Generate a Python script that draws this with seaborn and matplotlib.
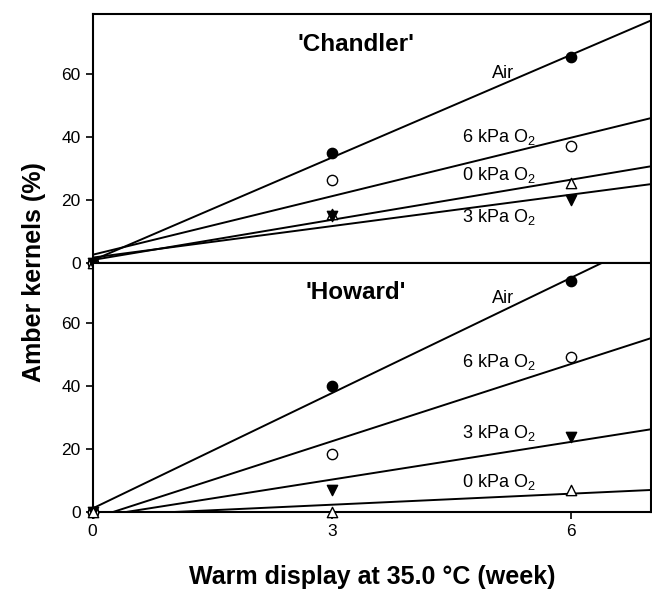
import numpy as np
import pandas as pd
import matplotlib
matplotlib.use("Agg")
import matplotlib.pyplot as plt
import seaborn as sns

# weeks of warm display
weeks = [0, 3, 6]

# 'Chandler' amber kernels (%)
chandler_air = [0, 35.0, 65.3]
chandler_6kpa = [0, 26.3, 37.2]
chandler_0kpa = [0, 15.5, 25.5]
chandler_3kpa = [0, 15.0, 20.0]

# 'Howard' amber kernels (%)
howard_air = [0, 40.0, 73.1]
howard_6kpa = [0, 18.3, 49.0]
howard_3kpa = [0, 7.0, 23.9]
howard_0kpa = [0, 0.0, 7.0]

treatments = ["Air", "6 kPa O$_2$", "0 kPa O$_2$", "3 kPa O$_2$"]

# (label x, label y) per treatment, per cultivar
chandler_labels = {"Air": (5.15, 60.3), "6 kPa O$_2$": (5.1, 40.0),
                   "0 kPa O$_2$": (5.1, 28.0), "3 kPa O$_2$": (5.1, 14.7)}
howard_labels = {"Air": (5.15, 67.6), "6 kPa O$_2$": (5.1, 47.7),
                 "3 kPa O$_2$": (5.1, 25.2), "0 kPa O$_2$": (5.1, 9.6)}

markers = {"Air": ("o", "black"), "6 kPa O$_2$": ("o", "white"),
           "0 kPa O$_2$": ("^", "white"), "3 kPa O$_2$": ("v", "black")}

sns.set_style("ticks")
plt.rcParams["font.family"] = ["Liberation Sans", "DejaVu Sans"]
plt.rcParams["mathtext.fontset"] = "custom"
plt.rcParams["mathtext.rm"] = "Liberation Sans"
plt.rcParams["mathtext.it"] = "Liberation Sans:italic"
plt.rcParams["mathtext.bf"] = "Liberation Sans:bold"
plt.rcParams["text.color"] = "black"
plt.rcParams["xtick.color"] = "black"
plt.rcParams["ytick.color"] = "black"
plt.rcParams["xtick.labelcolor"] = "black"
plt.rcParams["ytick.labelcolor"] = "black"


def draw_panel(ax, series, labels, title):
    ax.set_xlim(0, 7)
    ax.set_ylim(0, 79)
    for name, vals in series.items():
        df = pd.DataFrame({"week": weeks, "amber": vals})
        m, fc = markers[name]
        sns.regplot(x="week", y="amber", data=df, ax=ax, ci=None, truncate=False,
                    color="black", marker=m,
                    scatter_kws={"s": 55, "facecolors": fc, "edgecolors": "black",
                                 "linewidths": 1.0, "alpha": 1, "clip_on": False,
                                 "zorder": 3},
                    line_kws={"linewidth": 1.4})
        lx, ly = labels[name]
        ax.text(lx, ly, name, ha="center", va="center", fontsize=13)
    ax.text(3.3, 69.5, title, ha="center", va="center", fontsize=17.5, fontweight="bold")
    ax.set_yticks([0, 20, 40, 60])
    ax.set_xlabel("")
    ax.set_ylabel("")
    ax.tick_params(labelsize=12.5, direction="out", length=5, width=1.2)
    for s in ax.spines.values():
        s.set_linewidth(1.5)
        s.set_color("black")


fig = plt.figure(figsize=(6.52, 5.92), dpi=100)
ax1 = fig.add_axes([0.142, 0.556, 0.856, 0.42])
ax2 = fig.add_axes([0.142, 0.135, 0.856, 0.421])

draw_panel(ax1, {"Air": chandler_air, "6 kPa O$_2$": chandler_6kpa,
                 "0 kPa O$_2$": chandler_0kpa, "3 kPa O$_2$": chandler_3kpa},
           chandler_labels, "'Chandler'")
draw_panel(ax2, {"Air": howard_air, "6 kPa O$_2$": howard_6kpa,
                 "3 kPa O$_2$": howard_3kpa, "0 kPa O$_2$": howard_0kpa},
           howard_labels, "'Howard'")

ax1.set_xticks([])
ax2.set_xticks([0, 3, 6])

fig.text(0.052, 0.54, "Amber kernels (%)", rotation=90, ha="center", va="center",
         fontsize=18, fontweight="bold")
fig.text(0.571, 0.025, "Warm display at 35.0 °C (week)", ha="center", va="center",
         fontsize=18, fontweight="bold")

plt.savefig("out.png", dpi=100)
